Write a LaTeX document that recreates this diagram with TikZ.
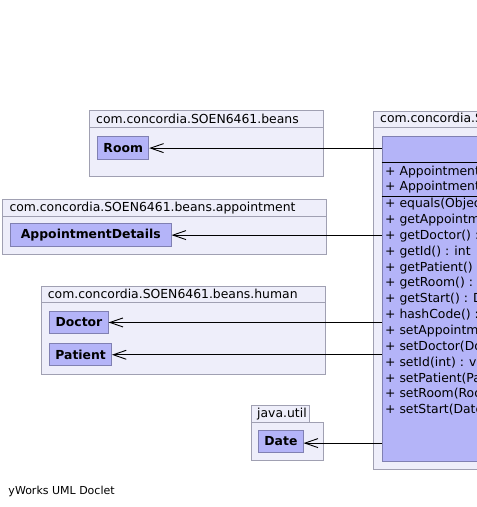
\documentclass[tikz,border=0pt]{standalone}
\usepackage{fontspec}
\setmainfont{DejaVu Sans}
\usetikzlibrary{arrows.meta}
\definecolor{pkgfill}{RGB}{238,238,250}
\definecolor{pkgline}{RGB}{160,160,178}
\definecolor{clsfill}{RGB}{180,180,248}
\definecolor{clsline}{RGB}{128,128,178}
\tikzset{
  pkg/.style={draw=pkgline, fill=pkgfill, line width=0.9pt},
  pkgsep/.style={draw=pkgline, line width=0.9pt},
  pkgtext/.style={anchor=west, inner sep=0pt, font=\fontsize{12.4}{14}\selectfont},
  cls/.style={draw=clsline, fill=clsfill, line width=0.9pt, inner sep=0pt, anchor=north west,
    font=\fontsize{12.4}{14}\selectfont\bfseries},
  clssep/.style={draw=black, line width=0.9pt},
  member/.style={anchor=west, inner sep=0pt, font=\fontsize{12.4}{14}\selectfont},
  dep/.style={draw=black, line width=0.9pt, -{Straight Barb[length=13pt,width=9pt,line width=0.9pt]}},
  footer/.style={anchor=west, inner sep=0pt, font=\fontsize{11}{13}\selectfont}
}
\begin{document}
\begin{tikzpicture}[x=1pt,y=-1pt]
\useasboundingbox (0,0) rectangle (477,507);
\clip (0,0) rectangle (477,507);
\fill[white] (0,0) rectangle (477,507);

% package beans
\path[pkg] (89.3,110) rectangle (323.7,176);
\draw[pkgsep] (89.3,127.7) -- (323.7,127.7);
\node[pkgtext] (p1t) at (96,119) {com.concordia.SOEN6461.beans};
\node[cls, minimum width=51pt, minimum height=23.3pt] (room) at (97.3,136) {Room};

% package beans.appointment
\path[pkg] (2.7,199.3) rectangle (326.7,254.7);
\draw[pkgsep] (2.7,216) -- (326.7,216);
\node[pkgtext] (p2t) at (9.3,207.7) {com.concordia.SOEN6461.beans.appointment};
\node[cls, minimum width=160.7pt, minimum height=22.7pt] (ad) at (10,223.3) {AppointmentDetails};

% package beans.human
\path[pkg] (41,286) rectangle (325.7,374.3);
\draw[pkgsep] (41,302.7) -- (325.7,302.7);
\node[pkgtext] (p3t) at (47.7,294.3) {com.concordia.SOEN6461.beans.human};
\node[cls, minimum width=58.4pt, minimum height=22.6pt] (doctor) at (49.3,310.7) {Doctor};
\node[cls, minimum width=61.7pt, minimum height=22pt] (patient) at (49.3,343.3) {Patient};

% package java.util
\path[pkg] (251,405) rectangle (309,422.3);
\path[pkg] (251,422.3) rectangle (323.3,460.7);
\node[pkgtext] (p4t) at (257,413.7) {java.util};
\node[cls, minimum width=44.4pt, minimum height=21.7pt] (date) at (258.3,430) {Date};

% main package and class
\path[pkg] (373.3,111) rectangle (520,469.3);
\draw[pkgsep] (373.3,127.7) -- (520,127.7);
\node[pkgtext] (p5t) at (380,119.4) {com.concordia.SOEN6461.beans.appointment.dao};
\node[cls, minimum width=140pt, minimum height=325pt] (main) at (381.7,136) {};
\draw[clssep] (381.7,162.3) -- (520,162.3);
\draw[clssep] (381.7,196) -- (520,196);
\node[member] (a1) at (385,172) {+ Appointment()};
\node[member] (a2) at (385,187.5) {+ Appointment(int, Date, Doctor, Patient, Room)};
\node[member] (m1) at (385,204.5) {+ equals(Object) : boolean};
\node[member] (m2) at (385,220.3) {+ getAppointmentDetails() : AppointmentDetails};
\node[member] (m3) at (385,236.1) {+ getDoctor() : Doctor};
\node[member] (m4) at (385,251.9) {+ getId() : int};
\node[member] (m5) at (385,267.7) {+ getPatient() : Patient};
\node[member] (m6) at (385,283.5) {+ getRoom() : Room};
\node[member] (m7) at (385,299.3) {+ getStart() : Date};
\node[member] (m8) at (385,315.1) {+ hashCode() : int};
\node[member] (m9) at (385,330.9) {+ setAppointmentDetails(AppointmentDetails) : void};
\node[member] (m10) at (385,346.7) {+ setDoctor(Doctor) : void};
\node[member] (m11) at (385,362.5) {+ setId(int) : void};
\node[member] (m12) at (385,378.3) {+ setPatient(Patient) : void};
\node[member] (m13) at (385,394.1) {+ setRoom(Room) : void};
\node[member] (m14) at (385,409.9) {+ setStart(Date) : void};

% dependencies
\draw[dep] (main.west |- room.east) -- (room.east);
\draw[dep] (main.west |- ad.east) -- (ad.east);
\draw[dep] (main.west |- doctor.east) -- (doctor.east);
\draw[dep] (main.west |- patient.east) -- (patient.east);
\draw[dep] ([yshift=-1.8pt]main.west |- date.east) -- ([yshift=-1.8pt]date.east);

\node[footer] (doclet) at (8.3,491) {yWorks UML Doclet};
\end{tikzpicture}
\end{document}
